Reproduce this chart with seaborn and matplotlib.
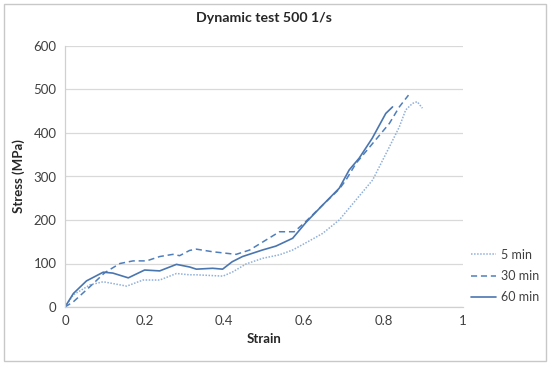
import matplotlib
matplotlib.use("Agg")
import matplotlib.pyplot as plt
import seaborn as sns
import pandas as pd
from matplotlib.patches import Rectangle

# ---- data ----
x_5min = [0, 0.021, 0.063, 0.096, 0.12, 0.155, 0.196, 0.238, 0.28, 0.313, 0.33, 0.397,
          0.422, 0.455, 0.497, 0.539, 0.572, 0.6, 0.614, 0.647, 0.689, 0.731, 0.773,
          0.815, 0.84, 0.856, 0.873, 0.885, 0.898]
y_5min = [0, 28, 51, 58, 54, 48, 62, 62, 77, 74, 74, 71,
          81, 99, 112, 120, 131, 145, 152, 169, 200, 246, 292,
          368, 414, 453, 468, 472, 457]

x_30min = [0, 0.021, 0.063, 0.1, 0.138, 0.171, 0.205, 0.238, 0.271, 0.288, 0.313, 0.33,
           0.371, 0.43, 0.464, 0.505, 0.539, 0.576, 0.601, 0.647, 0.689, 0.706, 0.731,
           0.773, 0.815, 0.84, 0.863]
y_30min = [0, 12, 47, 79, 100, 106, 106, 116, 121, 118, 130, 133,
           127, 121, 131, 154, 173, 173, 193, 234, 271, 292, 330,
           376, 422, 460, 487]

x_60min = [0, 0.021, 0.054, 0.096, 0.12, 0.159, 0.2, 0.238, 0.28, 0.313, 0.33, 0.371,
           0.396, 0.42, 0.446, 0.496, 0.53, 0.572, 0.606, 0.647, 0.689, 0.714, 0.739,
           0.772, 0.806, 0.823]
y_60min = [0, 31, 60, 80, 78, 67, 85, 83, 98, 92, 87, 89,
           87, 104, 116, 131, 140, 158, 195, 234, 273, 315, 342,
           388, 445, 460]

series_names = ["5 min", "30 min", "60 min"]
x_ticks = [0, 0.2, 0.4, 0.6, 0.8, 1]
x_tick_labels = ["0", "0.2", "0.4", "0.6", "0.8", "1"]
y_ticks = [0, 100, 200, 300, 400, 500, 600]

# ---- styling ----
sns.set_theme(style="white")
plt.rcParams["font.family"] = ["Lato", "DejaVu Sans"]

fig = plt.figure(figsize=(5.5, 3.66), dpi=100)
ax = fig.add_axes([65 / 550, 1 - 307 / 366, (463 - 65) / 550, (307 - 46) / 366])

styles = {
    "5 min": dict(color="#8FB0DA", linestyle=(0, (1, 1)), linewidth=1.1),
    "30 min": dict(color="#4F7EBC", linestyle=(0, (4, 2.5)), linewidth=1.1),
    "60 min": dict(color="#4A76B0", linestyle="-", linewidth=1.2),
}
data = {"5 min": (x_5min, y_5min), "30 min": (x_30min, y_30min), "60 min": (x_60min, y_60min)}

for name in series_names:
    xs, ys = data[name]
    df = pd.DataFrame({"Strain": xs, "Stress": ys})
    sns.lineplot(data=df, x="Strain", y="Stress", ax=ax, label=name,
                 sort=False, estimator=None, **styles[name])

ax.set_xlim(0, 1)
ax.set_ylim(0, 600)
ax.set_xticks(x_ticks)
ax.set_xticklabels(x_tick_labels)
ax.set_yticks(y_ticks)
ax.tick_params(axis="both", length=0, labelsize=9.5, colors="#404040", pad=6)
ax.yaxis.grid(True, color="#D9D9D9", linewidth=0.9)
ax.xaxis.grid(False)
for side in ["top", "right"]:
    ax.spines[side].set_visible(False)
for side in ["left", "bottom"]:
    ax.spines[side].set_color("#D0D0D0")
    ax.spines[side].set_linewidth(0.9)

ax.set_xlabel("Strain", fontsize=9.5, fontweight="bold", color="#262626", labelpad=4)
ax.set_ylabel("Stress (MPa)", fontsize=9.5, fontweight="bold", color="#262626", labelpad=6)
ax.set_title("Dynamic test 500 1/s", fontsize=10.2, fontweight="bold", color="#262626", pad=17)

handles, labels = ax.get_legend_handles_labels()
ax.get_legend().remove()
fig.legend(handles, labels, loc="center left", bbox_to_anchor=(466 / 550, 1 - 276 / 366),
           borderaxespad=0, frameon=False, fontsize=9, handlelength=2.0, handletextpad=0.4,
           labelspacing=0.75, labelcolor="#404040")

fig.patches.append(Rectangle((4 / 550, 1 - 361 / 366), 542 / 550, 357 / 366,
                             transform=fig.transFigure, fill=False,
                             edgecolor="#C8C8C8", linewidth=1.0))

fig.savefig("out.png", dpi=100)
